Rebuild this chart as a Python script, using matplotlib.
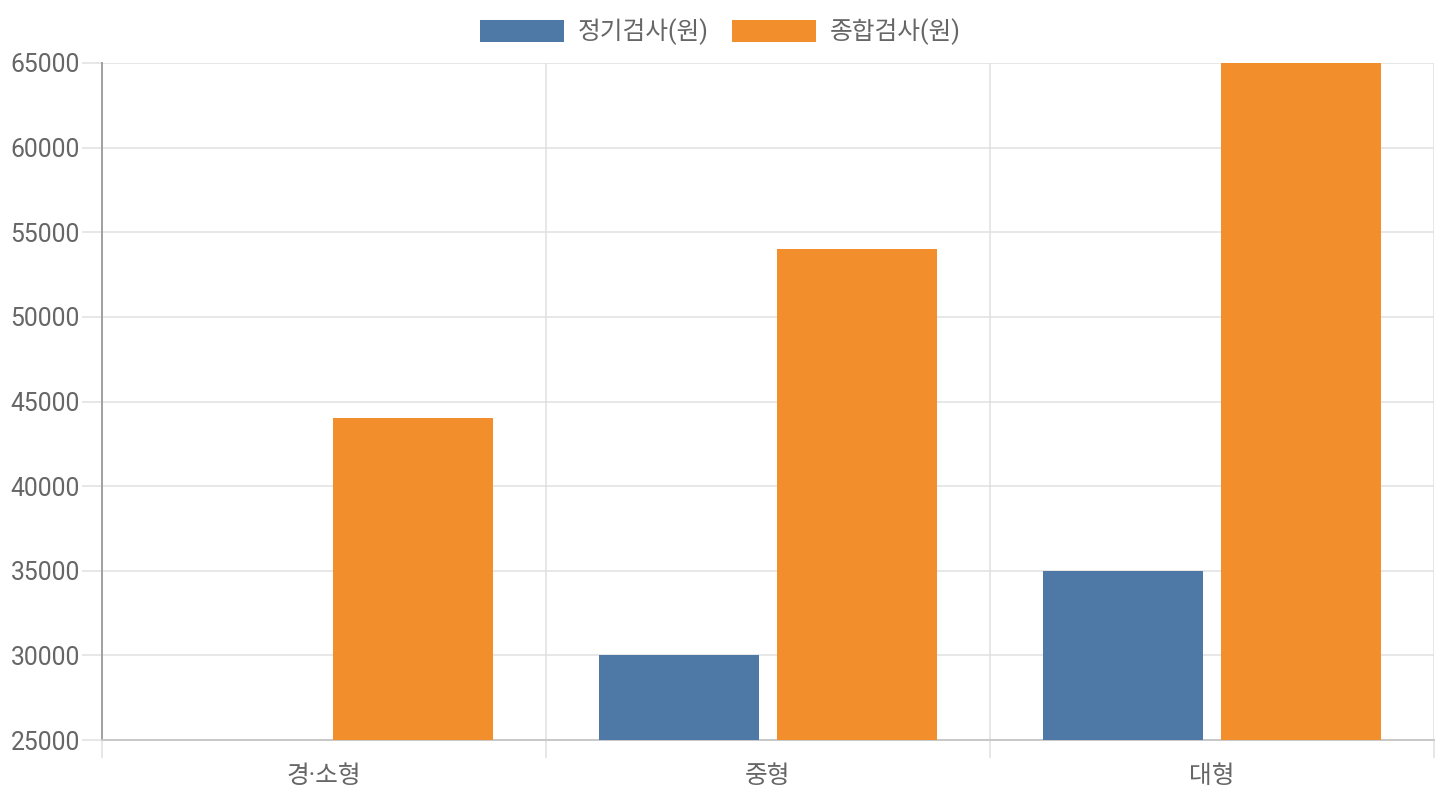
import numpy as np
import matplotlib
matplotlib.use("Agg")
import matplotlib.pyplot as plt
from matplotlib.patches import Patch

# data
categories = ["경·소형", "중형", "대형"]
regular = [25000, 30000, 35000]      # 정기검사(원)
general = [44000, 54000, 65000]      # 종합검사(원)
series_names = ["정기검사(원)", "종합검사(원)"]
y_ticks = list(range(25000, 65001, 5000))

BLUE = "#4e79a7"
ORANGE = "#f28e2b"
TXT = "#666666"
GRID = "#e0e0e0"

plt.rcParams["font.family"] = ["Roboto", "Noto Sans CJK KR", "DejaVu Sans"]

fig = plt.figure(figsize=(14.4, 8), dpi=100)
ax = fig.add_axes([102 / 1440, 60 / 800, 1332 / 1440, 677 / 800])

x = np.arange(len(categories))
slot = 0.8 / 2
bw = slot * 0.9
ax.bar(x - slot / 2, regular, width=bw, color=BLUE, zorder=3)
ax.bar(x + slot / 2, general, width=bw, color=ORANGE, zorder=3)

ax.set_xlim(-0.5, len(categories) - 0.5)
ax.set_ylim(y_ticks[0], y_ticks[-1])

# y axis
ax.set_yticks(y_ticks)
ax.set_yticklabels([str(v) for v in y_ticks], fontsize=17.8, color=TXT)
ax.tick_params(axis="y", length=14.4, width=1.1, color=GRID, pad=1.5)
ax.yaxis.grid(True, color=GRID, linewidth=1.1, zorder=0)

# x axis: labels centred, gridlines/ticks at boundaries
ax.set_xticks(x)
ax.set_xticklabels(categories, fontsize=17.8, color=TXT)
ax.tick_params(axis="x", which="major", length=0, pad=17)
ax.set_xticks(np.arange(-0.5, len(categories)), minor=True)
ax.tick_params(axis="x", which="minor", length=13, width=1.1, color=GRID)
ax.xaxis.grid(True, which="minor", color=GRID, linewidth=1.1, zorder=0)

for side in ["top", "right"]:
    ax.spines[side].set_visible(False)
ax.spines["left"].set_color("#a0a0a0")
ax.spines["left"].set_linewidth(1.4)
ax.spines["bottom"].set_color("#c8c8c8")
ax.spines["bottom"].set_linewidth(1.4)

handles = [Patch(facecolor=BLUE), Patch(facecolor=ORANGE)]
fig.legend(handles, series_names, loc="center", bbox_to_anchor=(0.5, 1 - 32 / 800),
           ncol=2, frameon=False, fontsize=17.8, labelcolor=TXT,
           handlelength=3.4, handleheight=0.95, handletextpad=0.55, columnspacing=0.95)

fig.savefig("out.png", dpi=100)
